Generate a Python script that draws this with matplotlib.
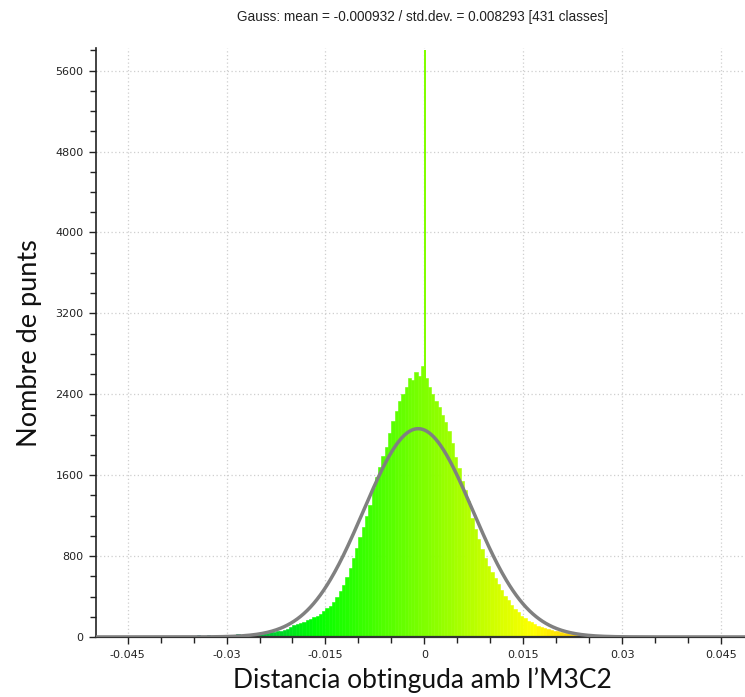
import numpy as np
import matplotlib
matplotlib.use("Agg")
from matplotlib import pyplot as plt
from matplotlib.colors import LinearSegmentedColormap, Normalize

# histogram of M3C2 distances (counts per class)
BIN_START = -0.050
BIN_WIDTH = 0.0005
counts = [
    # -0.050 .. -0.040
    0, 6, 0, 0, 8, 0, 5, 0, 0, 7, 0, 10, 0, 6, 0, 0, 9, 0, 12, 0,
    # -0.040 .. -0.030
    8, 0, 10, 6, 0, 12, 8, 0, 14, 10, 6, 15, 9, 12, 18, 10, 14, 20, 12, 16,
    # -0.030 .. -0.020
    20, 24, 18, 26, 22, 30, 28, 32, 30, 36, 34, 40, 40, 46, 50, 56, 64, 72, 82, 95,
    # -0.020 .. -0.010
    120, 128, 140, 150, 165, 180, 195, 210, 232, 258,
    285, 310, 350, 395, 450, 510, 590, 680, 780, 880,
    # -0.010 .. 0.000
    990, 1090, 1200, 1310, 1470, 1580, 1680, 1790, 1880, 2020,
    2140, 2230, 2330, 2400, 2470, 2560, 2540, 2620, 2580, 2680,
    # 0.000 .. 0.010
    2560, 2470, 2400, 2330, 2270, 2200, 2130, 2040, 1920, 1780,
    1670, 1540, 1450, 1340, 1180, 1070, 970, 870, 780, 700,
    # 0.010 .. 0.020
    640, 580, 520, 460, 410, 365, 320, 280, 245, 210,
    185, 162, 145, 128, 112, 98, 88, 78, 70, 62,
    # 0.020 .. 0.030
    55, 48, 42, 38, 34, 30, 28, 25, 22, 20, 18, 20, 16, 15, 18, 14, 12, 15, 10, 12,
    # 0.030 .. 0.049
    10, 8, 12, 6, 10, 0, 8, 12, 5, 0, 9, 6, 0, 10, 0, 7, 0, 0, 8, 0,
    5, 0, 0, 9, 0, 0, 6, 0, 0, 0, 5, 0, 0, 0, 0, 0, 0, 0,
]
spike_x = 0.0001
spike_count = 5800
spike_width = 0.00023

# fitted gauss (from the title), peak height
gauss_mean = -0.000932
gauss_std = 0.008293
gauss_peak = 2060

x_ticks = [-0.045, -0.03, -0.015, 0, 0.015, 0.03, 0.045]
x_tick_labels = ["-0.045", "-0.03", "-0.015", "0", "0.015", "0.03", "0.045"]
y_ticks = [0, 800, 1600, 2400, 3200, 4000, 4800, 5600]

title = "Gauss: mean = -0.000932 / std.dev. = 0.008293 [431 classes]"
xlabel = "Distancia obtinguda amb l\u2019M3C2"
ylabel = "Nombre de punts"

cmap = LinearSegmentedColormap.from_list(
    "bgyr", ["#0000ff", "#00ff00", "#ffff00", "#ff0000"]
)
norm = Normalize(-0.05, 0.05)

fig = plt.figure(figsize=(7.45, 6.97), dpi=100)
ax = fig.add_axes([96 / 745, 1 - 637 / 697, 1 - 96 / 745, (637 - 48) / 697])

edges = BIN_START + BIN_WIDTH * np.arange(len(counts))
centers = edges + BIN_WIDTH / 2
colors = cmap(norm(centers))
ax.bar(edges, counts, width=BIN_WIDTH, align="edge", color=colors,
       edgecolor=colors, linewidth=0.4, zorder=2)
ax.bar(spike_x, spike_count, width=spike_width, color=cmap(norm(spike_x)),
       linewidth=0, zorder=2)

xs = np.linspace(-0.05, 0.05, 600)
ax.plot(xs, gauss_peak * np.exp(-0.5 * ((xs - gauss_mean) / gauss_std) ** 2),
        color="#808080", lw=2.5, zorder=3, solid_capstyle="butt")

ax.set_xlim(-0.0498, (745 - 423) / 6620)
ax.set_ylim(0, (637 - 48) / 0.10113)

ax.set_xticks(x_ticks)
ax.set_xticklabels(x_tick_labels)
ax.set_xticks(np.arange(-0.045, 0.0451, 0.005), minor=True)
ax.set_yticks(y_ticks)
ax.set_yticks(np.arange(0, 5801, 200), minor=True)

ax.grid(True, which="major", color="#cfcfcf", linestyle=(0, (1, 2)), lw=0.9, zorder=0)
ax.set_axisbelow(True)

for side in ["top", "right"]:
    ax.spines[side].set_visible(False)
ax.spines["left"].set_color("#222222")
ax.spines["bottom"].set_color("#333333")
ax.spines["left"].set_linewidth(1.2)
ax.spines["bottom"].set_linewidth(1.6)

ax.tick_params(which="both", direction="out", color="#222222", width=1,
               labelsize=8, labelcolor="#222222")
ax.tick_params(which="major", length=5, pad=4)
ax.tick_params(which="minor", length=4)

fig.text(422 / 745, 1 - 17 / 697, title, ha="center", va="center",
         fontsize=9.8, family="Liberation Sans", color="#222222")
fig.text(422 / 745, 1 - 680 / 697, xlabel, ha="center", va="center",
         fontsize=19, family="Lato", color="#111111")
fig.text(30 / 745, 1 - 343 / 697, ylabel, ha="center", va="center",
         rotation=90, fontsize=19.5, family="Lato", color="#111111")

fig.savefig("out.png", dpi=100)
